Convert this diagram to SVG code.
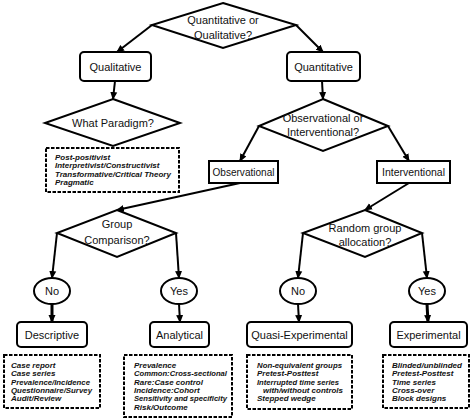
<svg xmlns="http://www.w3.org/2000/svg" width="474" height="419" viewBox="0 0 474 419">
<defs>
<marker id="ah" markerUnits="userSpaceOnUse" markerWidth="8" markerHeight="8" viewBox="0 0 8 8" refX="7" refY="4" orient="auto">
<path d="M0,0.5 L8,4 L0,7.5 Z" fill="#000"/>
</marker>
<style>
.n{fill:#fff;stroke:#000;stroke-width:2}
.d{fill:#fff;stroke:#000;stroke-width:2;stroke-dasharray:3.5 1.5}
.t{font-family:"Liberation Sans",Arial,sans-serif;font-size:11px;text-anchor:middle;fill:#111}
.l{font-family:"Liberation Sans",Arial,sans-serif;font-size:8px;font-weight:bold;font-style:italic;fill:#111}
.c{fill:none;stroke:#000;stroke-width:2;marker-end:url(#ah)}
.c3{fill:none;stroke:#000;stroke-width:3;marker-end:url(#ah)}
</style>
</defs>
<rect width="474" height="419" fill="#fff"/>
<g id="connectors">
<line class="c" x1="152" y1="25" x2="117" y2="52"/>
<line class="c" x1="296" y1="25" x2="323" y2="52"/>
<line class="c" x1="115" y1="81" x2="113" y2="99"/>
<line class="c" x1="322" y1="81" x2="323" y2="99"/>
<line class="c" x1="259" y1="126" x2="240" y2="161"/>
<line class="c" x1="388" y1="126" x2="409" y2="161"/>
<line class="c" x1="240" y1="183" x2="117" y2="210"/>
<line class="c" x1="409" y1="183" x2="365" y2="210"/>
<line class="c" x1="57" y1="233" x2="52" y2="278"/>
<line class="c" x1="176" y1="233" x2="179" y2="278"/>
<line class="c" x1="303" y1="233" x2="298" y2="278"/>
<line class="c" x1="422" y1="233" x2="427" y2="278"/>
<line class="c3" x1="52" y1="304" x2="52" y2="322"/>
<line class="c" x1="179" y1="304" x2="180" y2="322"/>
<line class="c" x1="298" y1="304" x2="299" y2="322"/>
<line class="c3" x1="427" y1="304" x2="428" y2="322"/>
</g>
<g id="q1">
<polygon class="n" points="223,3 296,25 223,48 152,25"/>
<text class="t" x="223" y="24">Quantitative or</text>
<text class="t" x="223" y="39">Qualitative?</text>
</g>
<g id="qualitative">
<rect class="n" x="80" y="52" width="71" height="29" rx="4"/>
<text class="t" x="115.5" y="71">Qualitative</text>
</g>
<g id="quantitative">
<rect class="n" x="287" y="52" width="73" height="29" rx="4"/>
<text class="t" x="323.5" y="71">Quantitative</text>
</g>
<g id="paradigm">
<polygon class="n" points="113,99 180,123 113,146 45,123"/>
<text class="t" x="113" y="127">What Paradigm?</text>
</g>
<g id="paradigm-list">
<rect class="d" x="46" y="148" width="133" height="44"/>
<text class="l" x="55" y="160">Post-positivist</text>
<text class="l" x="55" y="168.3">Interpretivist/Constructivist</text>
<text class="l" x="55" y="176.6">Transformative/Critical Theory</text>
<text class="l" x="55" y="185">Pragmatic</text>
</g>
<g id="obsint">
<polygon class="n" points="323,99 388,126 323,151 259,126"/>
<text class="t" x="323" y="122">Observational or</text>
<text class="t" x="323" y="136">Interventional?</text>
</g>
<g id="observational">
<rect class="n" x="209" y="161" width="69" height="22"/>
<text class="t" x="243.5" y="176" textLength="62" lengthAdjust="spacingAndGlyphs">Observational</text>
</g>
<g id="interventional">
<rect class="n" x="377" y="161" width="73" height="22"/>
<text class="t" x="413.5" y="176" textLength="63" lengthAdjust="spacingAndGlyphs">Interventional</text>
</g>
<g id="group">
<polygon class="n" points="117,210 176,233 117,257 57,233"/>
<text class="t" x="117" y="228">Group</text>
<text class="t" x="117" y="244">Comparison?</text>
</g>
<g id="random">
<polygon class="n" points="365,210 422,233 365,257 303,233"/>
<text class="t" x="365" y="232">Random group</text>
<text class="t" x="365" y="246">allocation?</text>
</g>
<g id="no1">
<ellipse class="n" cx="52" cy="291" rx="18" ry="13"/>
<text class="t" x="52" y="295">No</text>
</g>
<g id="yes1">
<ellipse class="n" cx="179" cy="291" rx="18" ry="13"/>
<text class="t" x="179" y="295">Yes</text>
</g>
<g id="no2">
<ellipse class="n" cx="298" cy="291" rx="18" ry="13"/>
<text class="t" x="298" y="295">No</text>
</g>
<g id="yes2">
<ellipse class="n" cx="427" cy="291" rx="18" ry="13"/>
<text class="t" x="427" y="295">Yes</text>
</g>
<g id="descriptive">
<rect class="n" x="17" y="322" width="70" height="25" rx="4"/>
<text class="t" x="52" y="339">Descriptive</text>
</g>
<g id="analytical">
<rect class="n" x="150" y="322" width="59" height="25" rx="4"/>
<text class="t" x="179.5" y="339">Analytical</text>
</g>
<g id="quasi">
<rect class="n" x="247" y="322" width="105" height="25" rx="4"/>
<text class="t" x="299.5" y="339">Quasi-Experimental</text>
</g>
<g id="experimental">
<rect class="n" x="390" y="322" width="77" height="25" rx="4"/>
<text class="t" x="428.5" y="339">Experimental</text>
</g>
<g id="descriptive-list">
<rect class="d" x="4" y="355" width="96" height="53"/>
<text class="l" x="11" y="368">Case report</text>
<text class="l" x="11" y="376.3">Case series</text>
<text class="l" x="11" y="384.6" textLength="79" lengthAdjust="spacingAndGlyphs">Prevalence/Incidence</text>
<text class="l" x="11" y="392.9" textLength="81" lengthAdjust="spacingAndGlyphs">Questionnaire/Survey</text>
<text class="l" x="11" y="401.2">Audit/Review</text>
</g>
<g id="analytical-list">
<rect class="d" x="124" y="355" width="108" height="62"/>
<text class="l" x="134" y="368">Prevalence</text>
<text class="l" x="134" y="376.3" textLength="93" lengthAdjust="spacingAndGlyphs">Common:Cross-sectional</text>
<text class="l" x="134" y="384.6">Rare:Case control</text>
<text class="l" x="134" y="392.9">Incidence:Cohort</text>
<text class="l" x="134" y="401.2" textLength="93" lengthAdjust="spacingAndGlyphs">Sensitivity and specificity</text>
<text class="l" x="134" y="409.5">Risk/Outcome</text>
</g>
<g id="quasi-list">
<rect class="d" x="247" y="355" width="105" height="54"/>
<text class="l" x="257" y="368" textLength="85" lengthAdjust="spacingAndGlyphs">Non-equivalent groups</text>
<text class="l" x="257" y="376.3">Pretest-Posttest</text>
<text class="l" x="257" y="384.6" textLength="82" lengthAdjust="spacingAndGlyphs">Interrupted time series</text>
<text class="l" x="263" y="392.9" textLength="80" lengthAdjust="spacingAndGlyphs">with/without controls</text>
<text class="l" x="257" y="401.2">Stepped wedge</text>
</g>
<g id="experimental-list">
<rect class="d" x="383" y="355" width="86" height="53"/>
<text class="l" x="392" y="368" textLength="70" lengthAdjust="spacingAndGlyphs">Blinded/unblinded</text>
<text class="l" x="392" y="376.3">Pretest-Posttest</text>
<text class="l" x="392" y="384.6">Time series</text>
<text class="l" x="392" y="392.9">Cross-over</text>
<text class="l" x="392" y="401.2">Block designs</text>
</g>
</svg>
